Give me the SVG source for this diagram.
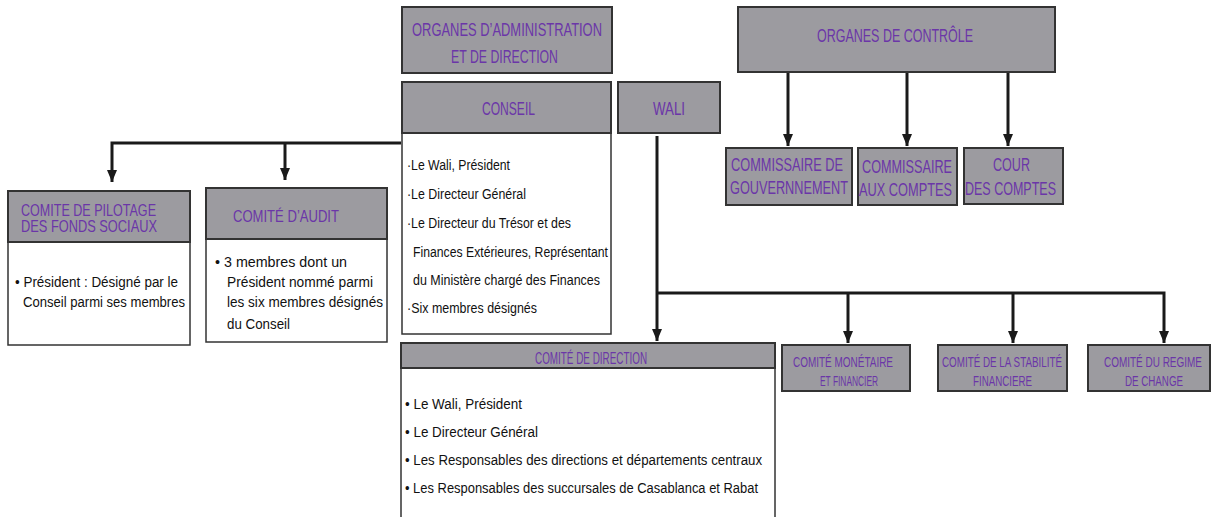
<svg xmlns="http://www.w3.org/2000/svg" width="1212" height="517" viewBox="0 0 1212 517">
  <defs>
    <marker id="arr" viewBox="0 0 12 10" refX="12" refY="5" markerWidth="12" markerHeight="10" markerUnits="userSpaceOnUse" orient="auto">
      <path d="M0,0 L12,5 L0,10 Z" fill="#1a1a1a"/>
    </marker>
    <style>
      .hd { fill: #9c9ba0; stroke: #333; stroke-width: 2; }
      .bd { fill: #fff; stroke: #333; stroke-width: 1.5; }
      .t { font-family: "Liberation Sans", Arial, sans-serif; fill: #6b36a8; }
      .b { font-family: "Liberation Sans", Arial, sans-serif; fill: #111; font-size: 15px; }
      .ln { fill: none; stroke: #1a1a1a; stroke-width: 3; }
    </style>
  </defs>
  <rect width="1212" height="517" fill="#fff"/>

  <!-- connectors -->
  <g id="connectors">
    <path class="ln" d="M401,143 H112 V182" marker-end="url(#arr)"/>
    <path class="ln" d="M285,143 V180" marker-end="url(#arr)"/>
    <path class="ln" d="M788,72 V146" marker-end="url(#arr)"/>
    <path class="ln" d="M907,72 V146" marker-end="url(#arr)"/>
    <path class="ln" d="M1008,72 V146" marker-end="url(#arr)"/>
    <path class="ln" d="M657,136 V341" marker-end="url(#arr)"/>
    <path class="ln" d="M657,293 H1164 V343" marker-end="url(#arr)"/>
    <path class="ln" d="M848,293 V343" marker-end="url(#arr)"/>
    <path class="ln" d="M1013,293 V343" marker-end="url(#arr)"/>
  </g>

  <!-- condensed lettering: headings scaled 0.72, body text 0.82 -->
  <g id="admin">
    <rect class="hd" x="402" y="7" width="210" height="66"/>
    <text class="t" font-size="18" transform="translate(412 36) scale(0.72 1)" textLength="263.9" lengthAdjust="spacingAndGlyphs">ORGANES D’ADMINISTRATION</text>
    <text class="t" font-size="18" transform="translate(451 63) scale(0.72 1)" textLength="148.6" lengthAdjust="spacingAndGlyphs">ET DE DIRECTION</text>
  </g>

  <g id="conseil">
    <rect class="bd" x="402" y="133" width="209" height="201"/>
    <rect class="hd" x="402" y="82" width="209" height="51"/>
    <text class="t" font-size="18" transform="translate(482 115) scale(0.72 1)" textLength="73.6" lengthAdjust="spacingAndGlyphs">CONSEIL</text>
    <text class="b" transform="translate(407 170) scale(0.82 1)" textLength="125.6" lengthAdjust="spacingAndGlyphs">·Le Wali, Président</text>
    <text class="b" transform="translate(407 199) scale(0.82 1)" textLength="145.1" lengthAdjust="spacingAndGlyphs">·Le Directeur Général</text>
    <text class="b" transform="translate(407 228) scale(0.82 1)" textLength="200" lengthAdjust="spacingAndGlyphs">·Le Directeur du Trésor et des</text>
    <text class="b" transform="translate(413 257) scale(0.82 1)" textLength="237.8" lengthAdjust="spacingAndGlyphs">Finances Extérieures, Représentant</text>
    <text class="b" transform="translate(413 285) scale(0.82 1)" textLength="228" lengthAdjust="spacingAndGlyphs">du Ministère chargé des Finances</text>
    <text class="b" transform="translate(407 313) scale(0.82 1)" textLength="158.5" lengthAdjust="spacingAndGlyphs">·Six membres désignés</text>
  </g>

  <g id="wali">
    <rect class="hd" x="618" y="82" width="102" height="51"/>
    <text class="t" font-size="18" transform="translate(653 115) scale(0.72 1)" textLength="44.4" lengthAdjust="spacingAndGlyphs">WALI</text>
  </g>

  <g id="controle">
    <rect class="hd" x="738" y="7" width="317" height="65"/>
    <text class="t" font-size="18" transform="translate(817 42) scale(0.72 1)" textLength="216.7" lengthAdjust="spacingAndGlyphs">ORGANES DE CONTRÔLE</text>
  </g>

  <g id="commissaire-gouvernement">
    <rect class="hd" x="726" y="148" width="126" height="57"/>
    <text class="t" font-size="18" transform="translate(731 171) scale(0.72 1)" textLength="155.6" lengthAdjust="spacingAndGlyphs">COMMISSAIRE DE</text>
    <text class="t" font-size="18" transform="translate(730 194) scale(0.72 1)" textLength="163.9" lengthAdjust="spacingAndGlyphs">GOUVERNNEMENT</text>
  </g>

  <g id="commissaire-comptes">
    <rect class="hd" x="858" y="148" width="99" height="57"/>
    <text class="t" font-size="18" transform="translate(862 173) scale(0.72 1)" textLength="125" lengthAdjust="spacingAndGlyphs">COMMISSAIRE</text>
    <text class="t" font-size="18" transform="translate(859 196) scale(0.72 1)" textLength="129.2" lengthAdjust="spacingAndGlyphs">AUX COMPTES</text>
  </g>

  <g id="cour-comptes">
    <rect class="hd" x="964" y="148" width="99" height="56"/>
    <text class="t" font-size="18" transform="translate(993 171) scale(0.72 1)" textLength="51.4" lengthAdjust="spacingAndGlyphs">COUR</text>
    <text class="t" font-size="18" transform="translate(965 195) scale(0.72 1)" textLength="126.4" lengthAdjust="spacingAndGlyphs">DES COMPTES</text>
  </g>

  <g id="comite-pilotage">
    <rect class="bd" x="8" y="242" width="182" height="103"/>
    <rect class="hd" x="8" y="191" width="182" height="51"/>
    <text class="t" font-size="16" transform="translate(21 216) scale(0.72 1)" textLength="187.5" lengthAdjust="spacingAndGlyphs">COMITE DE PILOTAGE</text>
    <text class="t" font-size="16" transform="translate(21 232) scale(0.72 1)" textLength="188.9" lengthAdjust="spacingAndGlyphs">DES FONDS SOCIAUX</text>
    <text class="b" transform="translate(15 287) scale(0.82 1)" textLength="198.8" lengthAdjust="spacingAndGlyphs">• Président : Désigné par le</text>
    <text class="b" transform="translate(23 307) scale(0.82 1)" textLength="197.6" lengthAdjust="spacingAndGlyphs">Conseil parmi ses membres</text>
  </g>

  <g id="comite-audit">
    <rect class="bd" x="206" y="239" width="181" height="103"/>
    <rect class="hd" x="206" y="188" width="181" height="51"/>
    <text class="t" font-size="17" transform="translate(233 222) scale(0.72 1)" textLength="147.2" lengthAdjust="spacingAndGlyphs">COMITÉ D’AUDIT</text>
    <text class="b" transform="translate(215 267) scale(0.82 1)" textLength="161" lengthAdjust="spacingAndGlyphs">• 3 membres dont un</text>
    <text class="b" transform="translate(227 287) scale(0.82 1)" textLength="178" lengthAdjust="spacingAndGlyphs">Président nommé parmi</text>
    <text class="b" transform="translate(227 307) scale(0.82 1)" textLength="190.2" lengthAdjust="spacingAndGlyphs">les six membres désignés</text>
    <text class="b" transform="translate(227 329) scale(0.82 1)" textLength="76.8" lengthAdjust="spacingAndGlyphs">du Conseil</text>
  </g>

  <g id="comite-direction">
    <rect class="bd" x="401" y="368" width="374" height="160"/>
    <rect class="hd" x="401" y="343" width="374" height="25"/>
    <text class="t" font-size="16" transform="translate(535 364) scale(0.72 1)" textLength="155.6" lengthAdjust="spacingAndGlyphs">COMITÉ DE DIRECTION</text>
    <text class="b" transform="translate(405 409) scale(0.82 1)" textLength="142.7" lengthAdjust="spacingAndGlyphs">• Le Wali, Président</text>
    <text class="b" transform="translate(405 437) scale(0.82 1)" textLength="162.2" lengthAdjust="spacingAndGlyphs">• Le Directeur Général</text>
    <text class="b" transform="translate(405 465) scale(0.82 1)" textLength="435.4" lengthAdjust="spacingAndGlyphs">• Les Responsables des directions et départements centraux</text>
    <text class="b" transform="translate(405 493) scale(0.82 1)" textLength="430.5" lengthAdjust="spacingAndGlyphs">• Les Responsables des succursales de Casablanca et Rabat</text>
  </g>

  <g id="comite-monetaire">
    <rect class="hd" x="782" y="345" width="128" height="46"/>
    <text class="t" font-size="14" transform="translate(793 367) scale(0.72 1)" textLength="138.9" lengthAdjust="spacingAndGlyphs">COMITÉ MONÉTAIRE</text>
    <text class="t" font-size="14" transform="translate(820 386) scale(0.72 1)" textLength="80.6" lengthAdjust="spacingAndGlyphs">ET FINANCIER</text>
  </g>

  <g id="comite-stabilite">
    <rect class="hd" x="938" y="345" width="129" height="46"/>
    <text class="t" font-size="14" transform="translate(942 367) scale(0.72 1)" textLength="166.7" lengthAdjust="spacingAndGlyphs">COMITÉ DE LA STABILITÉ</text>
    <text class="t" font-size="14" transform="translate(973 386) scale(0.72 1)" textLength="81.9" lengthAdjust="spacingAndGlyphs">FINANCIERE</text>
  </g>

  <g id="comite-change">
    <rect class="hd" x="1088" y="345" width="122" height="46"/>
    <text class="t" font-size="14" transform="translate(1104 367) scale(0.72 1)" textLength="136.1" lengthAdjust="spacingAndGlyphs">COMITÉ DU REGIME</text>
    <text class="t" font-size="14" transform="translate(1125 386) scale(0.72 1)" textLength="80.6" lengthAdjust="spacingAndGlyphs">DE CHANGE</text>
  </g>
</svg>
